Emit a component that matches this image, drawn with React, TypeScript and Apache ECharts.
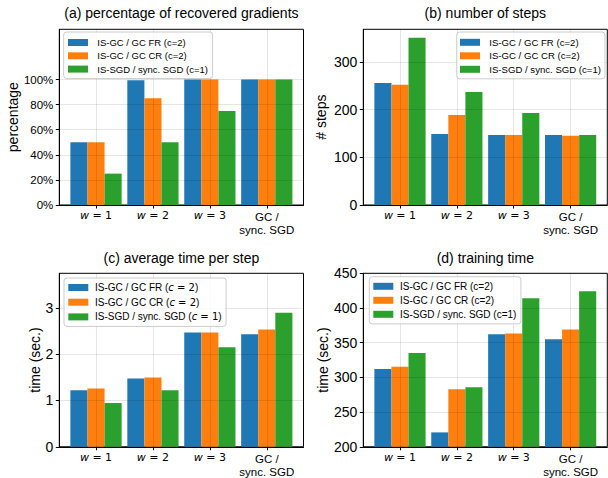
import React, { useEffect, useRef } from 'react';
import * as echarts from 'echarts';

// ---------------- data ----------------
const categories = ['w = 1', 'w = 2', 'w = 3', 'GC /\nsync. SGD'];
const seriesNames = ['IS-GC / GC FR (c=2)', 'IS-GC / GC CR (c=2)', 'IS-SGD / sync. SGD (c=1)'];

const pctFR = [50, 99.5, 100, 100];
const pctCR = [50, 85, 100, 100];
const pctSGD = [25, 50, 75, 100];

const stepsFR = [256, 149, 147, 147];
const stepsCR = [252, 189, 147, 145];
const stepsSGD = [351, 237, 193, 147];

const stepTimeFR = [1.22, 1.475, 2.47, 2.43];
const stepTimeCR = [1.26, 1.495, 2.47, 2.535];
const stepTimeSGD = [0.945, 1.22, 2.15, 2.895];

const trainFR = [312, 220.7, 362, 355];
const trainCR = [315.3, 283, 363.4, 369];
const trainSGD = [335, 285.7, 414, 424];

const pctTicks = [0, 20, 40, 60, 80, 100];
const stepTicks = [0, 100, 200, 300];
const stepTimeTicks = [0, 1, 2, 3];
const trainTicks = [200, 250, 300, 350, 400, 450];
const xTicks = [0, 1, 2, 3];

// ---------------- styles / layout ----------------
const colors = ['#1f77b4', '#ff7f0e', '#2ca02c'];
const offsets = [-0.3, 0, 0.3];
const FONT = '"Liberation Sans", Arial, Helvetica, sans-serif';
const MATH = '"DejaVu Sans", sans-serif';

const panels = [
  {
    title: '(a) percentage of recovered gradients', titleX: 181.4, titleY: 13,
    grid: { left: 59.3, top: 29.3, width: 244.2, height: 175.7 },
    yMin: 0, yMax: 140, ticks: pctTicks, fmt: (v: number) => v + '%',
    yName: 'percentage', nameGap: 39, tickFont: 11.5,
    data: [pctFR, pctCR, pctSGD],
    legend: { left: 63.7, top: 32, fontSize: 9.5, lineHeight: 12, itemGap: 1.3, padding: [4.5, 4.7, 3.5, 4.3], textPad: 4.3, math: false },
  },
  {
    title: '(b) number of steps', titleX: 485.3, titleY: 13,
    grid: { left: 363.3, top: 29.3, width: 244, height: 175.7 },
    yMin: 0, yMax: 368.5, ticks: stepTicks, fmt: (v: number) => String(v),
    yName: '# steps', nameGap: 35, tickFont: 14,
    data: [stepsFR, stepsCR, stepsSGD],
    legend: { left: 456.7, top: 32, fontSize: 9.6, lineHeight: 12, itemGap: 1.5, padding: [4.3, 4, 3.5, 3.3], textPad: 4.3, math: false },
  },
  {
    title: '(c) average time per step', titleX: 181.4, titleY: 258,
    grid: { left: 59.3, top: 273.3, width: 244.2, height: 177.4 },
    yMin: 0, yMax: 3.75, ticks: stepTimeTicks, fmt: (v: number) => String(v),
    yName: 'time (sec.)', nameGap: 17.6, tickFont: 14,
    data: [stepTimeFR, stepTimeCR, stepTimeSGD],
    legend: { left: 64, top: 278, fontSize: 10, lineHeight: 13, itemGap: 1.7, padding: [3, 4.5, 3, 4.3], textPad: 1.7, math: true },
  },
  {
    title: '(d) training time', titleX: 485.3, titleY: 257.5,
    grid: { left: 363.3, top: 273.3, width: 244, height: 177.4 },
    yMin: 200, yMax: 450, ticks: trainTicks, fmt: (v: number) => String(v),
    yName: 'time (sec.)', nameGap: 31, tickFont: 14,
    data: [trainFR, trainCR, trainSGD],
    legend: { left: 369.3, top: 276.7, fontSize: 10, lineHeight: 12, itemGap: 2, padding: [3.6, 4.5, 3.6, 4], textPad: 1.7, math: false },
  },
];

const xLabelFormatter = (v: number) => {
  const k = Math.round(v);
  const c = categories[k] || '';
  if (c.startsWith('w')) return '{wi|w}{wm|' + c.slice(1) + '}';
  return c.split('\n').map((l) => '{t|' + l + '}').join('\n');
};

export default function App() {
  const ref = useRef<HTMLDivElement>(null);

  useEffect(() => {
    if (!ref.current) return;
    const chart = echarts.init(ref.current, undefined, { renderer: 'svg' });

    const gridLine = { show: true, lineStyle: { color: 'rgba(0,0,0,0.1)', width: 1 } };

    const option: any = {
      animation: false,
      backgroundColor: '#ffffff',
      textStyle: { fontFamily: FONT },
      grid: panels.map((p) => ({ ...p.grid, show: true, borderColor: '#000', borderWidth: 1, backgroundColor: 'transparent' })),
      xAxis: panels.map((p, i) => ({
        gridIndex: i,
        type: 'value',
        min: -0.645,
        max: 3.645,
        z: 3,
        axisLine: { show: true, onZero: false, lineStyle: { color: '#000', width: 1 } },
        axisTick: { show: true, customValues: xTicks, length: 3.5, lineStyle: { color: '#000', width: 1 } },
        axisLabel: {
          customValues: xTicks,
          formatter: xLabelFormatter,
          margin: 5,
          color: '#000',
          rich: {
            wi: { fontFamily: MATH, fontStyle: 'italic', fontSize: 11, color: '#000' },
            wm: { fontFamily: MATH, fontSize: 11, color: '#000' },
            t: { fontFamily: FONT, fontSize: 11.5, lineHeight: 13.5, color: '#000' },
          },
        },
        splitLine: gridLine,
      })),
      yAxis: panels.map((p, i) => ({
        gridIndex: i,
        type: 'value',
        min: p.yMin,
        max: p.yMax,
        z: 3,
        axisLine: { show: true, onZero: false, lineStyle: { color: '#000', width: 1 } },
        axisTick: { show: true, customValues: p.ticks, length: 3.5, lineStyle: { color: '#000', width: 1 } },
        axisLabel: {
          customValues: p.ticks,
          formatter: p.fmt,
          margin: 6,
          color: '#000',
          fontFamily: FONT,
          fontSize: p.tickFont,
        },
        splitLine: gridLine,
        name: p.yName,
        nameLocation: 'middle',
        nameGap: p.nameGap,
        nameRotate: 90,
        nameTextStyle: { fontFamily: FONT, fontSize: 14, color: '#000' },
      })),
      legend: panels.map((p) => ({
        orient: 'vertical',
        left: p.legend.left,
        top: p.legend.top,
        data: seriesNames,
        icon: 'rect',
        itemWidth: 20,
        itemHeight: 7,
        itemGap: p.legend.itemGap,
        padding: p.legend.padding,
        backgroundColor: 'rgba(255,255,255,0.8)',
        borderColor: '#cccccc',
        borderWidth: 1,
        borderRadius: 3,
        selectedMode: false,
        z: 5,
        formatter: p.legend.math
          ? (name: string) => name.replace(/\(c=(\d)\)/, '({ci|c}{cm| = $1})')
          : (name: string) => name,
        textStyle: {
          fontFamily: FONT,
          fontSize: p.legend.fontSize,
          lineHeight: p.legend.lineHeight,
          color: '#000',
          padding: [0, 0, 0, p.legend.textPad],
          rich: {
            ci: { fontFamily: MATH, fontStyle: 'italic', fontSize: p.legend.fontSize, color: '#000' },
            cm: { fontFamily: MATH, fontSize: p.legend.fontSize, color: '#000' },
          },
        },
      })),
      graphic: panels.map((p) => ({
        type: 'text',
        x: p.titleX,
        y: p.titleY,
        z: 10,
        style: {
          text: p.title,
          fill: '#000',
          fontSize: 14,
          fontFamily: FONT,
          align: 'center',
          verticalAlign: 'middle',
        },
      })),
      series: panels.flatMap((p, i) =>
        p.data.map((vals, j) => ({
          type: 'bar',
          name: seriesNames[j],
          xAxisIndex: i,
          yAxisIndex: i,
          data: vals.map((v, k) => [k + offsets[j], v]),
          barWidth: 17.08,
          barGap: '-100%',
          itemStyle: { color: colors[j] },
          z: 2,
        }))
      ),
    };

    chart.setOption(option);
    return () => chart.dispose();
  }, []);

  return (
    <div
      ref={ref}
      style={{ position: 'absolute', left: 0, top: 0, width: 608, height: 478, background: '#fff' }}
    />
  );
}
